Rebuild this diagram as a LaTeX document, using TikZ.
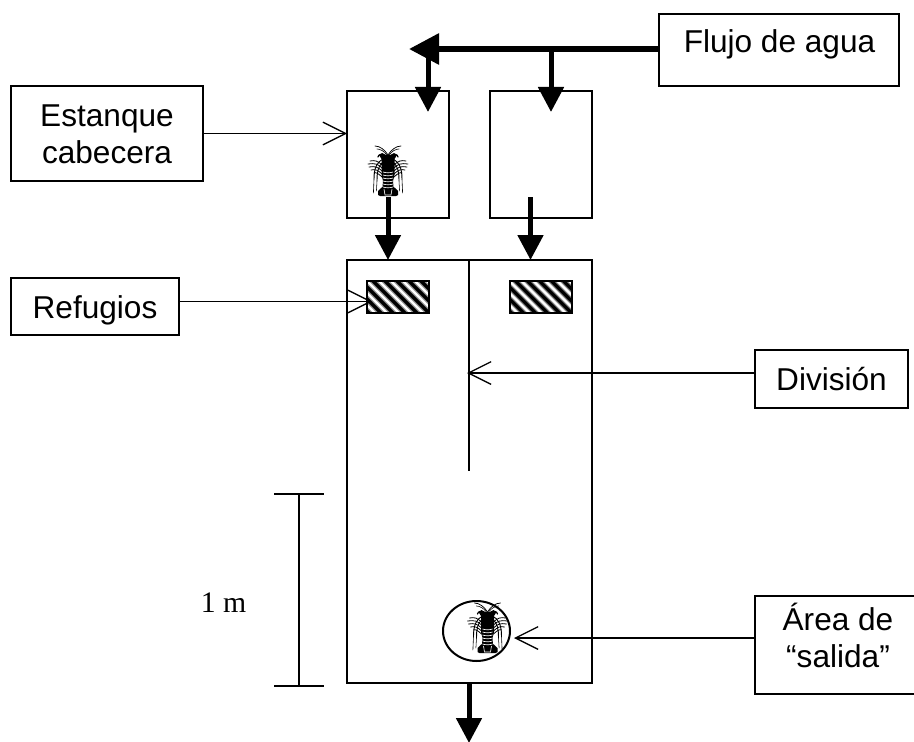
\documentclass[tikz,border=0pt]{standalone}
\usepackage{fontspec}
\setmainfont{Liberation Sans}
\newfontfamily\serifnum{Liberation Serif}
\usetikzlibrary{arrows.meta,calc,shapes.geometric}
\newcommand{\firstln}{\rule{0pt}{20pt}}
\newcommand{\lastln}{\rule[-6pt]{0pt}{6pt}}
\tikzset{
  x=0.75pt,y=-0.75pt,
  every node/.style={inner sep=0pt,outer sep=0pt},
  lab/.style={draw,line width=1.5pt},
  txt/.style={align=center,font=\fontsize{23.7}{27.75}\selectfont},
  tank/.style={draw,line width=1.25pt},
  flow/.style={line width=3.75pt,-{Triangle[length=18.75pt,width=18.75pt]}},
  mainflow/.style={line width=4.5pt,-{Triangle[length=22.5pt,width=22.5pt]}},
  thin arrow/.style={line width=1.1pt,-{Straight Barb[length=17pt,width=17pt,line width=1pt]}},
  rule/.style={line width=1.1pt},
  lobster/.pic={
    \foreach \s in {1,-1}{
      \begin{scope}[xscale=\s,line cap=round]
        \draw[line width=.55pt] (0,10) .. controls (3,5) and (8,1) .. (13,1);
        \draw[line width=.45pt] (1,10) .. controls (4,6) and (8,4) .. (11,4);
        \draw[line width=.9pt] (3,13) .. controls (7,8) and (9,9) .. (10,12);
        \foreach \yy/\xx in {16/18,19/20,22/19,25/17,28/14}{
          \draw[line width=.6pt] (6,\yy+4) .. controls (10,\yy) and (13,\yy-1) .. (\xx,\yy);
        }
        \draw[line width=.7pt] (5,14) .. controls (11,17) and (14,23) .. (14,34);
        \draw[line width=.45pt] (14,34) -- (14.6,48);
        \draw[line width=.7pt] (6,18) .. controls (10,22) and (11,27) .. (11,36);
        \draw[line width=.4pt] (11,36) -- (11.6,46);
      \end{scope}
    }
    \fill (-6,8) -- (-2,10) -- (2,10) -- (6,8) -- (9,10) -- (6.5,14) -- (6.5,30) -- (5,36) -- (5.5,42)
      -- (7,43) -- (10,46) -- (10,50) -- (8,51) -- (-8,51) -- (-10,50) -- (-10,46) -- (-7,43)
      -- (-5.5,42) -- (-5,36) -- (-6.5,30) -- (-6.5,14) -- (-9,10) -- cycle;
    \foreach \yy in {27,30,33,36,39,42}{
      \draw[white,line width=.5pt] (-5,\yy) .. controls (-2,\yy+1) and (2,\yy+1) .. (5,\yy);
    }
    \draw[white,line width=.45pt] (-4,44) -- (-3,50) -- (3,50) -- (4,44);
  },
}
\begin{document}
\begin{tikzpicture}
\useasboundingbox (0,0) rectangle (914,742);

% label boxes
\node[lab,minimum width=144pt,minimum height=71.25pt] (estanque) at (107,133.5) {};
\node[lab,minimum width=180pt,minimum height=54pt] (flujo) at (779,50) {};
\node[lab,minimum width=126pt,minimum height=42.75pt] (refugios) at (95,306.5) {};
\node[lab,minimum width=114.75pt,minimum height=43.5pt] (division) at (831.5,379) {};
\node[lab,minimum width=124.5pt,minimum height=73.5pt] (salida) at (838,645) {};
\node[txt] (testanque) at (107,135.2) {\firstln Estanque\\cabecera\lastln};
\node[txt,anchor=base] (tflujo) at (779.5,53) {Flujo de agua};
\node[txt,anchor=base] (trefugios) at (95,318) {Refugios};
\node[txt,anchor=base] (tdivision) at (831.5,390) {División};
\node[txt] (tsalida) at (838,639.2) {\firstln Área de\\“salida”\lastln};

% tanks
\node[tank,minimum width=76.5pt,minimum height=95.25pt] (t1) at (398,154.5) {};
\node[tank,minimum width=76.5pt,minimum height=95.25pt] (t2) at (541,154.5) {};
\node[tank,minimum width=183.75pt,minimum height=317.25pt] (main) at (469.5,471.5) {};

% shelters
\foreach \n/\cx in {r1/398,r2/540.5}{
  \node[minimum width=46.5pt,minimum height=24pt] (\n) at (\cx,297) {};
  \begin{scope}
    \clip (\n.south west) rectangle (\n.north east);
    \fill[white] (\n.south west) rectangle (\n.north east);
    \foreach \d in {-36,-24,...,72}{
      \draw[line width=4.4pt,black!45] ($(\n.north west)+(\d,-6)$) -- ++(48,48);
      \draw[line width=2.6pt] ($(\n.north west)+(\d,-6)$) -- ++(48,48);
    }
  \end{scope}
  \node[draw,line width=1.5pt,minimum width=46.5pt,minimum height=24pt] at (\cx,297) {};
}

% division wall
\coordinate (wallend) at (469,471);
\draw[rule] (main.north -| wallend) -- (wallend);

% water flow
\coordinate (tipL) at (409,49);
\coordinate (inL) at (428,112);
\coordinate (inR) at (551,112);
\draw[flow] (inL |- tipL) -- (inL);
\draw[flow] (inR |- tipL) -- (inR);
\draw[mainflow] (flujo.west |- tipL) -- (tipL);
\coordinate (o1) at (388,197);
\coordinate (o2) at (530.5,197);
\draw[flow] (o1) -- (o1 |- main.north);
\draw[flow] (o2) -- (o2 |- main.north);
\coordinate (ob) at (469,743);
\draw[flow] (ob |- main.south) -- (ob);

% lobsters and exit area
\pic at (388,145) {lobster};
\node[draw,line width=1.5pt,ellipse,minimum width=50.25pt,minimum height=45pt] (area) at (476.5,631) {};
\pic at (487.5,602) {lobster};

% label arrows
\draw[thin arrow] (estanque.east) -- (estanque.east -| t1.west);
\coordinate (rr) at (372,301.5);
\draw[thin arrow] (refugios.east |- rr) -- (rr);
\coordinate (dd) at (467,373);
\draw[thin arrow] (division.west |- dd) -- (dd);
\coordinate (aa) at (514,638);
\draw[thin arrow] (salida.west |- aa) -- (aa);

% scale bar
\coordinate (st) at (299,494);
\coordinate (sb) at (299,686);
\draw[rule] (st) -- (sb);
\draw[rule] ($(st)+(-25,0)$) -- ($(st)+(25,0)$);
\draw[rule] ($(sb)+(-25,0)$) -- ($(sb)+(25,0)$);
\node[anchor=base,font=\serifnum\fontsize{22.3}{26}\selectfont] (one) at (223.5,612) {1 m};
\end{tikzpicture}
\end{document}
